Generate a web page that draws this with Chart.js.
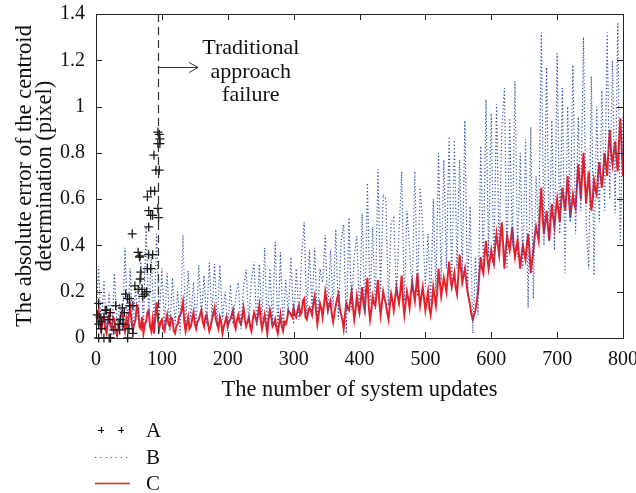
<!DOCTYPE html>
<html><head><meta charset="utf-8">
<script src="https://cdn.jsdelivr.net/npm/chart.js@4"></script>
<style>html,body{margin:0;padding:0;background:#fff}#wrap{width:636px;height:493px}</style>
</head><body><div id="wrap"><canvas id="c" width="636" height="493"></canvas></div>
<script>
// sample spacing (system updates) for series B and C
const stepB = 4;
const stepC = 2;
// series B (blue dotted), one value every 4 updates, 0..800
const seriesB = [
0.08,0.31,0.02,0.25,0.04,0.2,0.01,0.28,0.05,0.15,0.03,0.39,0.06,0.3,0.02,0.22,0.08,0.33,0.05,0.48,0.1,0.36,0.04,0.45,0.08,0.3,
0.05,0.28,0.03,0.26,0.06,0.2,0.02,0.445,0.05,0.29,0.08,0.24,0.04,0.315,0.1,0.27,0.06,0.325,0.09,0.32,0.05,0.315,0.08,0.2,0.03,
0.23,0.06,0.18,0.24,0.04,0.22,0.295,0.07,0.25,0.33,0.05,0.32,0.08,0.39,0.03,0.3,0.06,0.415,0.02,0.37,0.04,0.25,0.1,0.35,0.06,
0.3,0.08,0.35,0.5,0.1,0.38,0.12,0.39,0.07,0.3,0.24,0.445,0.1,0.38,0.13,0.47,0.08,0.42,0.49,0.02,0.52,0.12,0.35,0.44,0.1,
0.54,0.1,0.67,0.15,0.48,0.12,0.73,0.2,0.62,0.6,0.14,0.5,0.52,0.18,0.45,0.72,0.16,0.55,0.39,0.2,0.72,0.18,0.65,0.48,0.22,
0.45,0.15,0.6,0.2,0.8,0.25,0.77,0.3,0.87,0.22,0.855,0.3,0.77,0.28,0.94,0.18,0.57,0.02,0.35,0.1,0.83,0.3,1.03,0.35,0.97,
0.3,1.01,0.35,0.9,1.08,0.3,0.95,0.4,1.11,0.35,0.8,0.3,0.86,0.13,0.91,0.17,0.7,0.45,1.32,0.4,1.17,0.42,0.94,0.38,1.23,
0.45,1.08,0.28,1.0,0.5,1.18,0.45,0.955,0.55,1.3,0.5,0.3,1.13,0.27,1.0,0.5,1.07,0.55,1.32,0.6,1.2,0.54,1.36,0.41,0.97
];
// series C (red solid), one value every 2 updates, 0..800
const seriesC = [
0.05,0.09,0.12,0.06,0.03,0.08,0.09,0.04,0.02,0.07,0.1,0.05,0.04,0.09,0.08,0.03,0.01,0.05,0.06,0.11,0.12,0.06,0.03,0.08,0.04,0.1,0.13,0.07,0.03,0.06,0.08,0.14,0.13,0.05,0.04,0.09,0.02,0.06,0.07,0.11,0.12,0.05,0.03,0.08,0.02,0.09,0.155,0.08,0.04,0.07,
0.08,0.04,0.03,0.07,0.1,0.06,0.05,0.09,0.08,0.03,0.02,0.05,0.06,0.09,0.1,0.12,0.155,0.07,0.03,0.06,0.09,0.04,0.05,0.08,0.11,0.06,0.04,0.07,0.08,0.1,0.12,0.07,0.05,0.09,0.1,0.06,0.03,0.05,0.08,0.1,0.13,0.08,0.06,0.04,0.09,0.07,0.02,0.05,0.07,0.09,
0.05,0.07,0.08,0.1,0.12,0.06,0.04,0.08,0.1,0.07,0.06,0.09,0.13,0.08,0.05,0.07,0.09,0.05,0.03,0.08,0.11,0.09,0.07,0.1,0.14,0.08,0.04,0.07,0.1,0.06,0.02,0.08,0.12,0.09,0.05,0.06,0.08,0.04,0.02,0.06,0.1,0.05,0.03,0.07,0.06,0.08,0.12,0.11,0.1,0.09,
0.13,0.1,0.09,0.12,0.14,0.1,0.11,0.16,0.17,0.09,0.08,0.11,0.13,0.12,0.1,0.15,0.18,0.12,0.06,0.1,0.15,0.13,0.09,0.14,0.2,0.16,0.12,0.14,0.16,0.1,0.07,0.11,0.14,0.17,0.19,0.13,0.1,0.08,0.04,0.1,0.15,0.13,0.12,0.16,0.2,0.14,0.08,0.12,0.18,0.14,
0.11,0.16,0.22,0.15,0.12,0.2,0.26,0.14,0.08,0.12,0.18,0.15,0.14,0.19,0.25,0.16,0.1,0.15,0.2,0.17,0.15,0.11,0.08,0.14,0.19,0.16,0.12,0.17,0.22,0.18,0.15,0.2,0.27,0.16,0.1,0.15,0.2,0.17,0.13,0.19,0.24,0.2,0.16,0.22,0.28,0.2,0.14,0.18,0.22,0.17,
0.12,0.16,0.2,0.13,0.1,0.15,0.22,0.18,0.14,0.2,0.3,0.24,0.18,0.22,0.26,0.23,0.2,0.27,0.33,0.26,0.22,0.25,0.28,0.22,0.19,0.27,0.36,0.3,0.24,0.27,0.3,0.25,0.2,0.17,0.14,0.1,0.08,0.1,0.12,0.16,0.2,0.28,0.35,0.3,0.28,0.36,0.42,0.35,0.3,0.34,
0.38,0.34,0.32,0.4,0.45,0.4,0.36,0.44,0.5,0.4,0.3,0.38,0.44,0.41,0.38,0.43,0.48,0.4,0.35,0.39,0.42,0.36,0.3,0.36,0.4,0.37,0.34,0.4,0.45,0.38,0.28,0.33,0.38,0.44,0.48,0.45,0.42,0.55,0.65,0.52,0.45,0.5,0.55,0.48,0.42,0.5,0.58,0.52,0.48,0.55,
0.6,0.55,0.5,0.58,0.65,0.6,0.55,0.62,0.7,0.6,0.52,0.57,0.62,0.58,0.56,0.65,0.75,0.68,0.6,0.7,0.8,0.68,0.58,0.65,0.72,0.62,0.55,0.6,0.68,0.64,0.62,0.7,0.76,0.7,0.65,0.72,0.8,0.75,0.7,0.82,0.9,0.8,0.75,0.8,0.85,0.78,0.72,0.85,0.95,0.82,0.7
];
// series A (black crosses): updates and errors
const seriesAx = [94,96,97,94,97,88,91,96,83,89,78,94,80,83,86,95,80,55,64,67,66,80,86,83,78,68,67,64,59,70,74,77,71,45,48,51,51,56,30,40,43,4,14,16,12,22,20,8,4,8,37,35,36,41,27,50,56,4,12,20,22,48,2,6];
const seriesAy = [0.89,0.88,0.86,0.84,0.84,0.79,0.725,0.725,0.635,0.635,0.61,0.56,0.55,0.53,0.53,0.52,0.48,0.45,0.37,0.355,0.35,0.36,0.36,0.3,0.3,0.285,0.255,0.21,0.225,0.21,0.19,0.2,0.18,0.19,0.17,0.17,0.14,0.14,0.14,0.13,0.11,0.15,0.12,0.12,0.09,0.11,0.08,0.07,0.06,0.04,0.08,0.06,0.035,0.06,0.035,0.04,0.02,0,0,0,0,0,0.1,0.09];
const seriesNames = ['A','B','C'];
const xTickLabels = ['0','100','200','300','400','500','600','700','800'];
const yTickLabels = ['0','0.2','0.4','0.6','0.8','1','1.2','1.4'];
const failureUpdate = 94;
const annotationLines = ['Traditional','approach','failure'];

const FONT = "'Liberation Serif','Times New Roman',serif";
const toXY = (arr, step) => arr.map((v, i) => ({x: i * step, y: v}));
const dataA = seriesAx.map((x, i) => ({x, y: seriesAy[i]}));

const decor = {
  id: 'decor',
  afterDraw(chart) {
    const ctx = chart.ctx, a = chart.chartArea;
    const xs = chart.scales.x, ys = chart.scales.y;
    ctx.save();
    ctx.strokeStyle = '#222'; ctx.lineWidth = 1;
    ctx.strokeRect(Math.round(a.left) + 0.5, Math.round(a.top) + 0.5, Math.round(a.right - a.left), Math.round(a.bottom - a.top));
    ctx.beginPath();
    xTickLabels.forEach((t, i) => {
      const p = Math.round(xs.getPixelForValue(i * 100)) + 0.5;
      ctx.moveTo(p, a.bottom); ctx.lineTo(p, a.bottom - 6);
      ctx.moveTo(p, a.top); ctx.lineTo(p, a.top + 6);
    });
    yTickLabels.forEach((t, i) => {
      const p = Math.round(ys.getPixelForValue(i * 0.2)) + 0.5;
      ctx.moveTo(a.left, p); ctx.lineTo(a.left + 6, p);
      ctx.moveTo(a.right, p); ctx.lineTo(a.right - 6, p);
    });
    ctx.stroke();
    const fx = Math.round(xs.getPixelForValue(failureUpdate)) + 0.5;
    ctx.beginPath(); ctx.setLineDash([8, 5]); ctx.lineWidth = 1.2; ctx.strokeStyle = '#333';
    ctx.moveTo(fx, a.top); ctx.lineTo(fx, a.bottom); ctx.stroke();
    ctx.setLineDash([]);
    const ay = Math.round(ys.getPixelForValue(1.17)) + 0.5;
    const ax2 = xs.getPixelForValue(155);
    ctx.beginPath(); ctx.lineWidth = 1;
    ctx.moveTo(fx, ay); ctx.lineTo(ax2, ay);
    ctx.moveTo(ax2 - 9, ay - 5); ctx.lineTo(ax2, ay); ctx.lineTo(ax2 - 9, ay + 5);
    ctx.stroke();
    ctx.fillStyle = '#111'; ctx.font = '22px ' + FONT; ctx.textAlign = 'center'; ctx.textBaseline = 'middle';
    const tx = xs.getPixelForValue(235);
    [1.25, 1.148, 1.05].forEach((v, i) => ctx.fillText(annotationLines[i], tx, ys.getPixelForValue(v)));
    const lx0 = 95, lx1 = 130, tx0 = 146, rows = [430, 457, 483];
    ctx.font = '21px ' + FONT; ctx.textAlign = 'left';
    ctx.strokeStyle = '#111'; ctx.lineWidth = 1.2; ctx.beginPath();
    [101, 121].forEach(px => { ctx.moveTo(px - 3, rows[0] + 0.5); ctx.lineTo(px + 3, rows[0] + 0.5); ctx.moveTo(px + 0.5, rows[0] - 3); ctx.lineTo(px + 0.5, rows[0] + 3); });
    ctx.stroke();
    ctx.strokeStyle = '#3355bb'; ctx.lineWidth = 1.2; ctx.setLineDash([1.2, 4]);
    ctx.beginPath(); ctx.moveTo(lx0, rows[1] + 0.5); ctx.lineTo(lx1, rows[1] + 0.5); ctx.stroke();
    ctx.setLineDash([]);
    ctx.strokeStyle = '#e8202a'; ctx.lineWidth = 1.5;
    ctx.beginPath(); ctx.moveTo(lx0, rows[2] + 0.5); ctx.lineTo(lx1, rows[2] + 0.5); ctx.stroke();
    ctx.fillStyle = '#111';
    seriesNames.forEach((n, i) => ctx.fillText(n, tx0, rows[i] + 1));
    ctx.restore();
  }
};

new Chart(document.getElementById('c'), {
  type: 'line',
  data: {
    datasets: [
      {label: seriesNames[0], data: dataA, showLine: false, pointStyle: 'cross', pointRadius: 4.5, pointBorderWidth: 1.3, borderColor: '#1a1a1a', backgroundColor: '#1a1a1a', order: 0, clip: false},
      {label: seriesNames[1], data: toXY(seriesB, stepB), borderColor: '#2f4fb3', borderWidth: 1.2, borderDash: [1.2, 2.3], pointRadius: 0, tension: 0, order: 1},
      {label: seriesNames[2], data: toXY(seriesC, stepC), borderColor: '#e8202a', borderWidth: 2, pointRadius: 0, tension: 0, order: 2}
    ]
  },
  options: {
    responsive: false, animation: false, devicePixelRatio: 1,
    layout: {padding: {left: 0, right: 13, top: 14, bottom: 0}},
    plugins: {legend: {display: false}, tooltip: {enabled: false}},
    scales: {
      x: {
        type: 'linear', min: 0, max: 800,
        grid: {display: false, drawTicks: false}, border: {display: false},
        ticks: {stepSize: 100, autoSkip: false, maxRotation: 0, padding: 10, color: '#111', font: {family: FONT, size: 20},
          callback: v => xTickLabels[Math.round(v / 100)]},
        title: {display: true, text: 'The number of system updates', color: '#111', font: {family: FONT, size: 22.5}, padding: {top: 0, bottom: 89}},
        afterFit: s => { s.height = 155; s.paddingLeft = 0; s.paddingRight = 0; }
      },
      y: {
        min: 0, max: 1.4,
        grid: {display: false, drawTicks: false}, border: {display: false},
        ticks: {stepSize: 0.2, padding: 11, color: '#111', font: {family: FONT, size: 20},
          callback: v => yTickLabels[Math.round(v / 0.2)]},
        title: {display: true, text: ['The absolute error of the centroid', 'determination (pixel)'], color: '#111', font: {family: FONT, size: 22.5, lineHeight: 0.9}, padding: {top: 15}},
        afterFit: s => { s.width = 96; s.paddingTop = 0; s.paddingBottom = 0; }
      }
    }
  },
  plugins: [decor]
});
</script>
</body></html>
